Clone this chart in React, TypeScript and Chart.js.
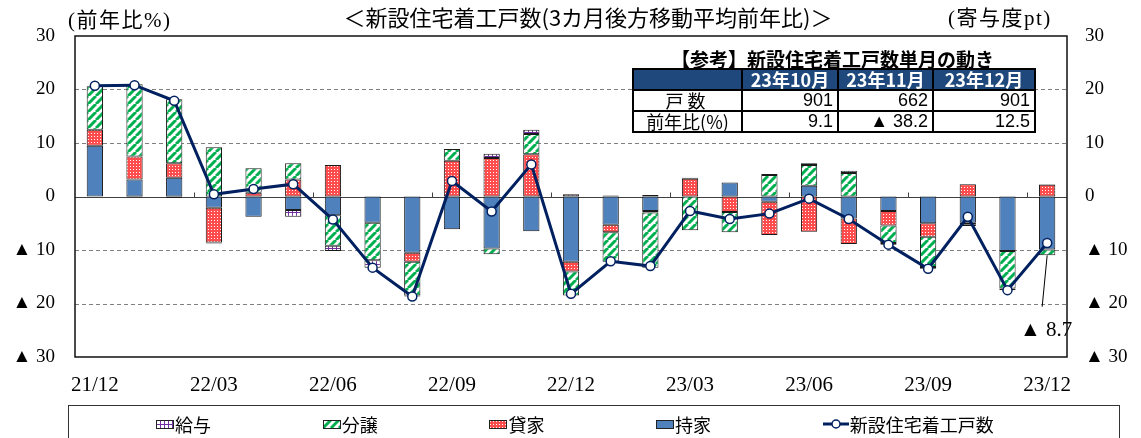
import React, { useEffect, useMemo, useRef } from 'react';
import { Chart, registerables } from 'chart.js';

Chart.register(...registerables);

// ---------- data ----------
const months = [
  '21/12', '22/01', '22/02', '22/03', '22/04', '22/05', '22/06', '22/07', '22/08', '22/09', '22/10', '22/11',
  '22/12', '23/01', '23/02', '23/03', '23/04', '23/05', '23/06', '23/07', '23/08', '23/09', '23/10', '23/11', '23/12',
];
// 持家
const mochiie = [9.5, 3.2, 3.5, -2.1, -3.8, -2.5, -3.5, -4.9, -10.5, -6.1, -9.7, -6.5, -12.2, -5.3, -2.7, 0, 2.6, -1.0, 2.0, -4.1, -2.7, -5.0, -4.9, -10.2, -9.9];
// 貸家
const kashiya = [3.0, 4.3, 2.7, -6.5, 0.7, 3.2, 5.9, 0, -1.7, 6.7, 7.2, 7.9, -1.8, -1.4, -0.3, 3.3, -2.9, -6.2, -6.6, -4.8, -2.7, -2.5, 2.3, 0, 2.2];
// 分譲
const bunjo = [8.1, 13.5, 12.0, 9.2, 4.6, 3.0, -5.7, -7.0, -6.3, 2.2, -1.1, 3.8, -4.5, -5.5, -10.3, -6.3, -3.8, 4.0, 3.9, 4.4, -3.3, -5.7, -0.3, -7.0, -1.1];
// 給与
const kyuyo = [0, -0.2, -0.3, -0.2, 0, -1.3, -1.0, -1.4, -0.2, 0, 0.8, 0.8, 0.4, 0.2, 0.3, 0.2, 0, 0.2, 0.3, 0.4, -0.3, -0.3, -0.3, -0.3, 0.1];
// 新設住宅着工戸数 (前年比%)
const total = [20.7, 20.8, 17.9, 0.4, 1.4, 2.3, -4.3, -13.3, -18.7, 2.9, -2.8, 6.0, -18.2, -12.1, -13.0, -2.7, -4.2, -3.2, -0.4, -4.2, -9.0, -13.5, -3.8, -17.5, -8.7];

const yTicks = [-30, -20, -10, 0, 10, 20, 30];

const tableHeaders = ['23年10月', '23年11月', '23年12月'];
const tableUnits = [901, 662, 901];
const tableYoY = [9.1, -38.2, 12.5];

const legendNames = ['給与', '分譲', '貸家', '持家', '新設住宅着工戸数'];

// ---------- styles ----------
const BLUE = '#4F81BD';
const RED = '#FF4D4D';
const GREEN = '#00B050';
const PURPLE = '#7030A0';
const NAVY = '#002060';
const SERIF = '"Liberation Serif", "Times New Roman", serif';
const CJK = '"Noto Sans CJK JP", sans-serif';
const SERIF_CJK = '"Liberation Serif", "Noto Sans CJK JP", serif';

const fmt = (v: number) => (v < 0 ? '▲ ' + Math.abs(v) : String(v));

function makeTile(kind: string): HTMLCanvasElement {
  const c = document.createElement('canvas');
  const g = c.getContext('2d')!;
  if (kind === 'green') {
    c.width = 8; c.height = 8;
    g.fillStyle = '#fff'; g.fillRect(0, 0, 8, 8);
    g.strokeStyle = GREEN; g.lineWidth = 3;
    for (const o of [-8, 0, 8]) { g.beginPath(); g.moveTo(o, 8); g.lineTo(o + 8, 0); g.stroke(); }
  } else if (kind === 'red') {
    c.width = 3; c.height = 3;
    g.fillStyle = RED; g.fillRect(0, 0, 3, 3);
    g.fillStyle = '#fff';
    g.fillRect(1, 1, 1, 1);
  } else if (kind === 'purple') {
    c.width = 4; c.height = 4;
    g.fillStyle = '#fff'; g.fillRect(0, 0, 4, 4);
    g.fillStyle = PURPLE; g.fillRect(0, 0, 1, 4); g.fillRect(0, 0, 4, 1);
  } else {
    c.width = 4; c.height = 4;
    g.fillStyle = BLUE; g.fillRect(0, 0, 4, 4);
  }
  return c;
}

function makeSwatch(kind: string): string {
  const c = document.createElement('canvas');
  const g = c.getContext('2d')!;
  if (kind === 'line') {
    c.width = 26; c.height = 12;
    g.strokeStyle = NAVY; g.lineWidth = 3;
    g.beginPath(); g.moveTo(0, 6); g.lineTo(26, 6); g.stroke();
    g.fillStyle = '#fff'; g.lineWidth = 1.5;
    g.beginPath(); g.arc(13, 6, 4, 0, Math.PI * 2); g.fill(); g.stroke();
  } else {
    c.width = 18; c.height = 9;
    const p = g.createPattern(makeTile(kind), 'repeat')!;
    g.fillStyle = p; g.fillRect(0, 0, 18, 9);
    g.strokeStyle = '#222'; g.lineWidth = 1; g.strokeRect(0.5, 0.5, 17, 8);
  }
  return c.toDataURL();
}

const decor = {
  id: 'decor',
  beforeDatasetsDraw(chart: any) {
    const { ctx, chartArea, scales } = chart;
    const { left, right } = chartArea;
    const y = scales.y;
    ctx.save();
    ctx.strokeStyle = '#7f7f7f';
    ctx.lineWidth = 1;
    ctx.setLineDash([4, 3]);
    yTicks.forEach((v) => {
      if (v === 0 || Math.abs(v) === 30) return;
      const py = Math.round(y.getPixelForValue(v)) + 0.5;
      ctx.beginPath(); ctx.moveTo(left, py); ctx.lineTo(right, py); ctx.stroke();
    });
    ctx.setLineDash([]);
    const zy = Math.round(y.getPixelForValue(0)) + 0.5;
    ctx.strokeStyle = '#404040';
    ctx.beginPath(); ctx.moveTo(left, zy); ctx.lineTo(right, zy); ctx.stroke();
    const cw = (right - left) / months.length;
    for (let k = 3; k < months.length; k += 3) {
      const px = Math.round(left + k * cw) + 0.5;
      ctx.beginPath(); ctx.moveTo(px, zy); ctx.lineTo(px, zy - 5); ctx.stroke();
    }
    ctx.restore();
  },
  afterDatasetsDraw(chart: any) {
    const { ctx, chartArea, scales } = chart;
    const { left, right, top, bottom } = chartArea;
    const { x, y } = scales;
    ctx.save();
    const n = months.length - 1;
    const negSum = [mochiie, kashiya, bunjo, kyuyo].reduce((s, arr) => s + Math.min(0, arr[n]), 0);
    const px = x.getPixelForValue(n);
    ctx.strokeStyle = '#000';
    ctx.lineWidth = 1;
    ctx.beginPath();
    ctx.moveTo(px, y.getPixelForValue(negSum));
    ctx.lineTo(px - 5, y.getPixelForValue(-20.6));
    ctx.stroke();
    ctx.fillStyle = '#000';
    ctx.font = '21px ' + SERIF;
    ctx.textAlign = 'center';
    ctx.textBaseline = 'middle';
    ctx.fillText(fmt(total[n]), px - 1, y.getPixelForValue(-25));
    ctx.strokeStyle = '#111';
    ctx.lineWidth = 1.5;
    ctx.strokeRect(left, top, right - left, bottom - top);
    ctx.restore();
  },
};

export default function App() {
  const ref = useRef<HTMLCanvasElement>(null);
  const swatches = useMemo(() => ['purple', 'green', 'red', 'blue', 'line'].map(makeSwatch), []);

  useEffect(() => {
    if (!ref.current) return;
    const pat = (k: string) => ref.current!.getContext('2d')!.createPattern(makeTile(k), 'repeat')!;
    const barCommon = { type: 'bar' as const, order: 1, yAxisID: 'y', borderWidth: 1, borderColor: '#1a1a1a', borderSkipped: false as const, barPercentage: 0.41, categoryPercentage: 1 };
    const tickY = { color: '#000', font: { family: SERIF, size: 19 }, stepSize: 10, callback: (v: any) => fmt(Number(v)) };
    const chart = new Chart(ref.current, {
      type: 'bar',
      data: {
        labels: months,
        datasets: [
          {
            type: 'line', label: '新設住宅着工戸数', data: total, order: 0, yAxisID: 'y',
            borderColor: NAVY, borderWidth: 3, pointRadius: 4.5, pointBackgroundColor: '#fff',
            pointBorderColor: NAVY, pointBorderWidth: 1.5, tension: 0,
          } as any,
          { ...barCommon, label: '持家', data: mochiie, backgroundColor: BLUE },
          { ...barCommon, label: '貸家', data: kashiya, backgroundColor: pat('red') },
          { ...barCommon, label: '分譲', data: bunjo, backgroundColor: pat('green') },
          { ...barCommon, label: '給与', data: kyuyo, backgroundColor: pat('purple') },
        ],
      },
      options: {
        responsive: false,
        animation: false,
        layout: { padding: { top: 36, bottom: 41, left: 0, right: 0 } },
        plugins: { legend: { display: false }, tooltip: { enabled: false }, title: { display: false } },
        scales: {
          x: {
            stacked: true,
            grid: { display: false, drawTicks: false },
            border: { display: false },
            ticks: {
              autoSkip: false, maxRotation: 0, minRotation: 0, padding: 16, color: '#000',
              font: { family: SERIF, size: 21 },
              callback: (_v: any, i: number) => (i % 3 === 0 ? months[i] : ''),
            },
            afterFit: (s: any) => { s.height = 40; },
          },
          y: {
            stacked: true, min: -30, max: 30,
            grid: { display: false, drawTicks: false },
            border: { display: false },
            ticks: { ...tickY, padding: 20 },
            afterFit: (s: any) => { s.width = 75; },
          },
          y2: {
            position: 'right', min: -30, max: 30,
            grid: { display: false, drawTicks: false },
            border: { display: false },
            ticks: { ...tickY, padding: 18 },
            afterFit: (s: any) => { s.width = 74; },
          },
        },
      } as any,
      plugins: [decor],
    });
    return () => chart.destroy();
  }, []);

  const td: React.CSSProperties = { border: '2px solid #000', padding: '0 4px', height: 19, lineHeight: '19px', whiteSpace: 'nowrap', overflow: 'hidden' };
  const hd: React.CSSProperties = { ...td, background: '#1F497D', color: '#fff', fontWeight: 700, textAlign: 'center' };
  const num: React.CSSProperties = { ...td, textAlign: 'right', fontFamily: '"Liberation Sans", Arial, sans-serif' };
  const lbl: React.CSSProperties = { ...td, textAlign: 'center' };

  return (
    <div style={{ position: 'absolute', left: 0, top: 0, width: 1141, height: 438, overflow: 'hidden', background: '#fff' }}>
      <canvas ref={ref} width={1141} height={438} style={{ position: 'absolute', left: 0, top: 0 }} />

      <div style={{ position: 'absolute', left: 588, top: 3, transform: 'translateX(-50%)', whiteSpace: 'nowrap', fontFamily: CJK, fontSize: 22, lineHeight: '26px', color: '#000' }}>
        ＜新設住宅着工戸数(3カ月後方移動平均前年比)＞
      </div>
      <div style={{ position: 'absolute', left: 68, top: 8, whiteSpace: 'nowrap', fontFamily: SERIF_CJK, fontSize: 21, letterSpacing: 1.5, lineHeight: '24px', color: '#000' }}>
        (前年比%)
      </div>
      <div style={{ position: 'absolute', left: 948, top: 6, whiteSpace: 'nowrap', fontFamily: SERIF_CJK, fontSize: 21, letterSpacing: 1.5, lineHeight: '24px', color: '#000' }}>
        (寄与度pt)
      </div>

      <div style={{ position: 'absolute', left: 671, top: 48, whiteSpace: 'nowrap', fontFamily: CJK, fontWeight: 700, fontSize: 19, lineHeight: '22px', color: '#000' }}>
        【参考】新設住宅着工戸数単月の動き
      </div>
      <table style={{ position: 'absolute', left: 632, top: 68, width: 404, borderCollapse: 'collapse', tableLayout: 'fixed', background: '#fff', fontFamily: CJK, fontSize: 18, color: '#000' }}>
        <colgroup>
          <col style={{ width: 109 }} />
          <col style={{ width: 96 }} />
          <col style={{ width: 95 }} />
          <col style={{ width: 102 }} />
        </colgroup>
        <tbody>
          <tr>
            <td style={hd}></td>
            {tableHeaders.map((h) => (<td key={h} style={hd}>{h}</td>))}
          </tr>
          <tr>
            <td style={{ ...lbl, letterSpacing: 4 }}>戸数</td>
            {tableUnits.map((v, i) => (<td key={i} style={num}>{v}</td>))}
          </tr>
          <tr>
            <td style={lbl}>前年比(%)</td>
            {tableYoY.map((v, i) => (<td key={i} style={num}>{v < 0 ? '▲ ' + Math.abs(v).toFixed(1) : v.toFixed(1)}</td>))}
          </tr>
        </tbody>
      </table>

      <div style={{ position: 'absolute', left: 68, top: 405, width: 1052, height: 60, border: '1.5px solid #333', boxSizing: 'border-box' }} />
      {legendNames.map((name, i) => (
        <div key={name} style={{ position: 'absolute', left: 156 + i * 166.7, top: 412, height: 24, display: 'flex', alignItems: 'center', whiteSpace: 'nowrap', fontFamily: SERIF_CJK, fontSize: 18, color: '#000' }}>
          <img src={swatches[i]} style={{ display: 'block', marginRight: 1 }} />
          <span>{name}</span>
        </div>
      ))}
    </div>
  );
}
